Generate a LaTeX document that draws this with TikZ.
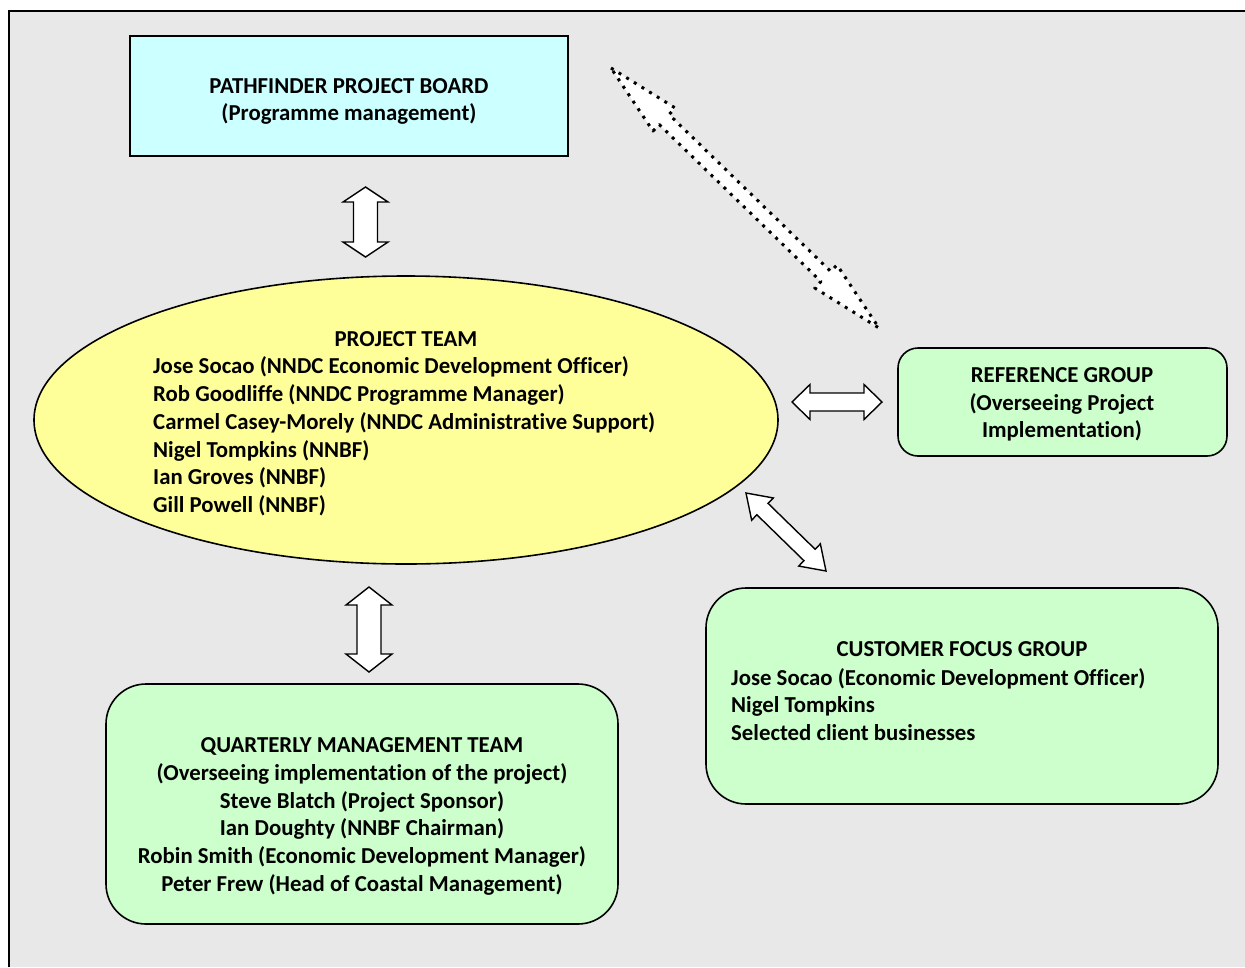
\documentclass[tikz,border=0pt]{standalone}
\usepackage{fontspec}
\setmainfont[Ligatures=NoCommon]{Carlito}
\usetikzlibrary{calc,shapes.geometric}
\definecolor{bggray}{RGB}{232,232,232}
\definecolor{boardblue}{RGB}{204,255,255}
\definecolor{teamyellow}{RGB}{255,255,153}
\definecolor{groupgreen}{RGB}{204,255,204}
\newcommand\blkarrow[6]{%
  \draw[#1] (#2) -- ($(#2)!#4!(#3)!#5!90:(#3)$) -- ($(#2)!#4!(#3)!#6!90:(#3)$)
    -- ($(#3)!#4!(#2)!#6!-90:(#2)$) -- ($(#3)!#4!(#2)!#5!-90:(#2)$) -- (#3)
    -- ($(#3)!#4!(#2)!#5!90:(#2)$) -- ($(#3)!#4!(#2)!#6!90:(#2)$)
    -- ($(#2)!#4!(#3)!#6!-90:(#3)$) -- ($(#2)!#4!(#3)!#5!-90:(#3)$) -- cycle;}
\begin{document}
\begin{tikzpicture}[x=1pt,y=-1pt,
  txt/.style={font=\bfseries\fontsize{22.8}{27.7}\selectfont, inner sep=0pt},
  boxline/.style={draw=black, line width=1.6pt},
  blockarr/.style={draw=black, fill=white, line width=1.4pt, line join=miter},
  dotarr/.style={draw=black, fill=white, line width=3pt, dash pattern=on 3pt off 6pt, line join=round}]
\useasboundingbox (0,0) rectangle (1245,967);
\fill[white] (0,0) rectangle (1245,967);
\fill[bggray] (9,11) rectangle (1245,967);
\draw[line width=2pt] (9,967) -- (9,11) -- (1245,11);

% nodes
\node[boxline, fill=boardblue, minimum width=438pt, minimum height=120pt, inner sep=0pt] (board) at (349,96) {};
\node[txt, align=center] (boardtxt) at (349,101.5) {PATHFINDER PROJECT BOARD\\(Programme management)};

\node[boxline, fill=teamyellow, ellipse, minimum width=744pt, minimum height=288pt, inner sep=0pt] (team) at (406,420) {};
\node[txt] (teamtitle) at (406,339.5) {PROJECT TEAM};
\node[txt, align=left, anchor=west] (teamlist) at (153,436.5) {Jose Socao (NNDC Economic Development Officer)\\Rob Goodliffe (NNDC Programme Manager)\\Carmel Casey-Morely (NNDC Administrative Support)\\Nigel Tompkins (NNBF)\\Ian Groves (NNBF)\\Gill Powell (NNBF)};

\node[boxline, fill=groupgreen, rounded corners=20pt, minimum width=329pt, minimum height=108pt, inner sep=0pt] (ref) at (1062.5,402) {};
\node[txt, align=center] (reftxt) at (1062,404.5) {REFERENCE GROUP\\(Overseeing Project\\Implementation)};

\node[boxline, fill=groupgreen, rounded corners=40pt, minimum width=512pt, minimum height=216pt, inner sep=0pt] (cust) at (962,696) {};
\node[txt] (custtitle) at (962,649) {CUSTOMER FOCUS GROUP};
\node[txt, align=left, anchor=west] (custlist) at (731,704.5) {Jose Socao (Economic Development Officer)\\Nigel Tompkins\\Selected client businesses};

\node[boxline, fill=groupgreen, rounded corners=40pt, minimum width=512pt, minimum height=240pt, inner sep=0pt] (qmt) at (362,804) {};
\node[txt, align=center] (qmttxt) at (362,816.5) {QUARTERLY MANAGEMENT TEAM\\(Overseeing implementation of the project)\\Steve Blatch (Project Sponsor)\\Ian Doughty (NNBF Chairman)\\Robin Smith (Economic Development Manager)\\Peter Frew (Head of Coastal Management)};

% connector end points
\coordinate (a1s) at (365.5,187);
\coordinate (a1e) at (365.5,257);
\coordinate (a2s) at (369,587);
\coordinate (a2e) at (369,672);
\coordinate (a3s) at (792,402);
\coordinate (a3e) at (882,402);
\coordinate (a4s) at (746,493);
\coordinate (a4e) at (826,571);
\coordinate (a5s) at (611,68);
\coordinate (a5e) at (879,328);

\blkarrow{blockarr}{a1s}{a1e}{15pt}{22.5pt}{12pt}
\blkarrow{blockarr}{a2s}{a2e}{18pt}{23pt}{12pt}
\blkarrow{blockarr}{a3s}{a3e}{18pt}{17.5pt}{9pt}
\blkarrow{blockarr}{a4s}{a4e}{23pt}{15.5pt}{8pt}
\blkarrow{dotarr}{a5s}{a5e}{74pt}{16pt}{7pt}
\end{tikzpicture}
\end{document}
